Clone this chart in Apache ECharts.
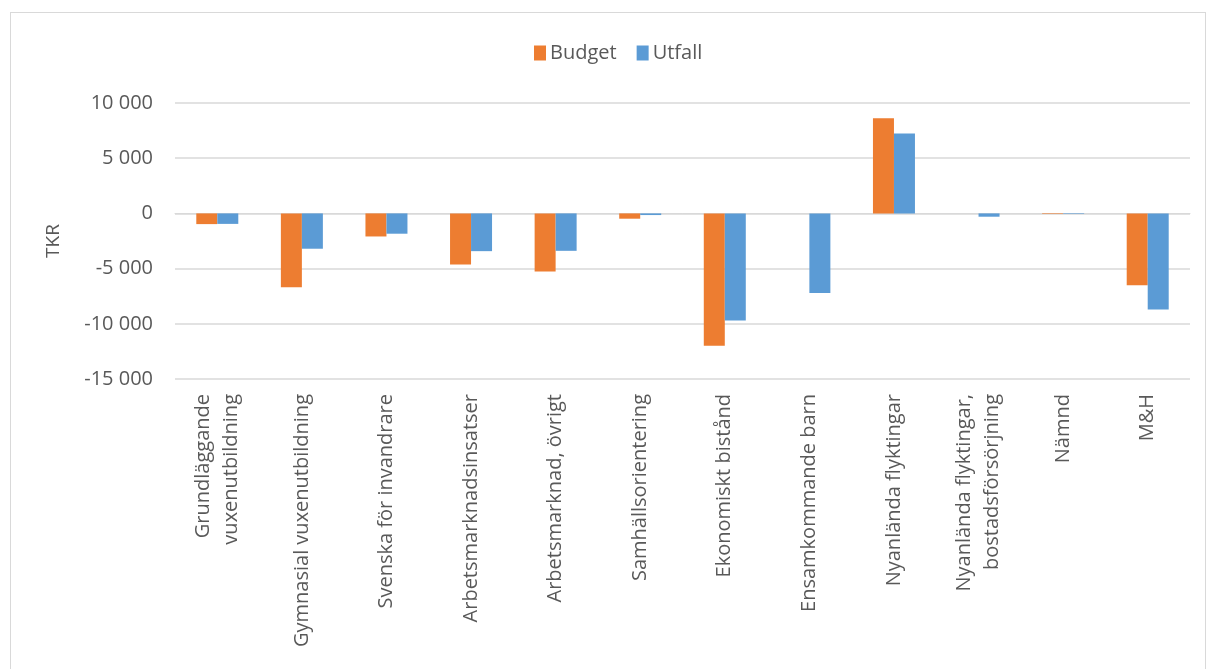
<!DOCTYPE html>
<html>
<head>
<meta charset="utf-8">
<script src="https://cdn.jsdelivr.net/npm/echarts@6/dist/echarts.min.js"></script>
<style>
  html, body { margin: 0; padding: 0; background: #fff; }
  #frame { position: absolute; left: 10px; top: 12px; width: 1194px; height: 680px; border: 1px solid #d9d9d9; }
  #chart { position: absolute; left: 0; top: 0; width: 1208px; height: 669px; }
</style>
</head>
<body>
<div id="frame"></div>
<div id="chart"></div>
<script>
// kategorier och värden (TKR)
const categories = [
  'Grundläggande\nvuxenutbildning',
  'Gymnasial vuxenutbildning',
  'Svenska för invandrare',
  'Arbetsmarknadsinsatser',
  'Arbetsmarknad, övrigt',
  'Samhällsorientering',
  'Ekonomiskt bistånd',
  'Ensamkommande barn',
  'Nyanlända flyktingar',
  'Nyanlända flyktingar,\nbostadsförsörjning',
  'Nämnd',
  'M&H'
]
const budget = [-970, -6690, -2090, -4630, -5260, -480, -11980, 0, 8620, 0, -50, -6500]
const utfall = [-950, -3200, -1840, -3420, -3390, -150, -9710, -7200, 7230, -300, -50, -8710]

const font = '"Open Sans", "Noto Sans", sans-serif'
const textColor = '#595959'

const chart = echarts.init(document.getElementById('chart'))

const fmt = (v) => {
  const s = Math.abs(v).toString().replace(/\B(?=(\d{3})+(?!\d))/g, ' ')
  return (v < 0 ? '-' : '') + s
}

chart.setOption({
  animation: false,
  textStyle: { fontFamily: font },
  legend: {
    top: 38,
    left: 529,
    itemWidth: 12,
    itemHeight: 15,
    itemGap: 20,
    icon: 'rect',
    textStyle: { fontSize: 20, color: textColor, fontFamily: font, padding: [0, 0, 0, -1] },
    data: ['Budget', 'Utfall']
  },
  grid: {
    left: 175,
    right: 18,
    top: 103,
    bottom: 290
  },
  xAxis: {
    type: 'category',
    data: categories,
    axisLine: { show: true, lineStyle: { color: '#d9d9d9', width: 1 } },
    axisTick: { show: false },
    axisLabel: {
      interval: 0,
      rotate: 90,
      margin: 15,
      fontSize: 20,
      color: textColor,
      fontFamily: font,
      lineHeight: 28
    }
  },
  yAxis: {
    type: 'value',
    min: -15000,
    max: 10000,
    interval: 5000,
    name: 'TKR',
    nameLocation: 'middle',
    nameRotate: 90,
    nameGap: 112,
    nameTextStyle: { fontSize: 19, color: textColor, fontFamily: font },
    axisLine: { show: false },
    axisTick: { show: false },
    splitLine: { lineStyle: { color: '#d9d9d9', width: 1.5 } },
    axisLabel: {
      margin: 22,
      fontSize: 20,
      color: textColor,
      fontFamily: font,
      formatter: fmt
    }
  },
  series: [
    {
      name: 'Budget',
      type: 'bar',
      data: budget,
      barWidth: 21,
      barGap: '0%',
      itemStyle: { color: '#ED7D31' }
    },
    {
      name: 'Utfall',
      type: 'bar',
      data: utfall,
      barWidth: 21,
      barGap: '0%',
      itemStyle: { color: '#5B9BD5' }
    }
  ]
})

window.addEventListener('resize', () => {
  chart.resize()
})
</script>
</body>
</html>
